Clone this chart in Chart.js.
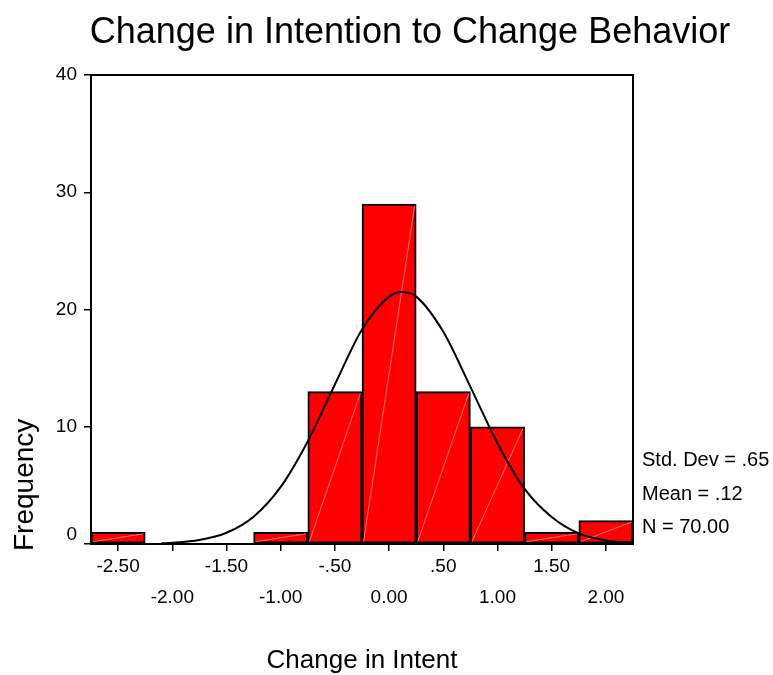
<!DOCTYPE html>
<html>
<head>
<meta charset="utf-8">
<title>Change in Intention to Change Behavior</title>
<script src="https://cdn.jsdelivr.net/npm/chart.js@4.4.1/dist/chart.umd.min.js"></script>
<style>
  body { margin: 0; background: #fff; }
  canvas { display: block; }
</style>
</head>
<body>
<canvas id="histChart" width="773" height="675"></canvas>
<script>
// Histogram bins (centres, width .50) and frequencies
const binCenters = [-2.5, -2.0, -1.5, -1.0, -0.5, 0, 0.5, 1.0, 1.5, 2.0];
const binLabels = ['-2.50', '-2.00', '-1.50', '-1.00', '-.50', '0.00', '.50', '1.00', '1.50', '2.00'];
const frequencies = [1, 0, 0, 1, 13, 29, 13, 10, 1, 2];

// Fitted normal curve, sampled along the axis
const curveX = [-2.1, -2.0, -1.75, -1.5, -1.25, -1.0, -0.75, -0.5, -0.25, 0, 0.12, 0.25, 0.5, 0.75, 1.0, 1.25, 1.5, 1.75, 2.0, 2.25];
const curveY = [0.06, 0.1, 0.34, 0.96, 2.33, 4.87, 8.77, 13.6, 18.3, 21.1, 21.5, 21.1, 18.1, 13.4, 8.6, 4.7, 2.3, 0.9, 0.3, 0.1];

const yTicks = [0, 10, 20, 30, 40];
const statLines = ['Std. Dev = .65', 'Mean = .12', 'N = 70.00'];

const FONT = '"Liberation Sans", Arial, Helvetica, sans-serif';

// Text and frame that sit outside the normal axis layout
const decorations = {
    id: 'decorations',
    afterDatasetDraw(chart, args) {
        // faint diagonal streak across every bar
        if (args.index !== 1) return;
        const ctx = chart.ctx;
        ctx.save();
        ctx.strokeStyle = 'rgba(255,255,255,0.45)';
        ctx.lineWidth = 1;
        args.meta.data.forEach(bar => {
            const p = bar.getProps(['x', 'y', 'base', 'width'], true);
            if (Math.abs(p.base - p.y) < 1) return;
            ctx.beginPath();
            ctx.moveTo(p.x - p.width / 2 + 1.5, p.base - 1.5);
            ctx.lineTo(p.x + p.width / 2 - 1.5, p.y + 1.5);
            ctx.stroke();
        });
        ctx.restore();
    },
    afterDraw(chart) {
        const ctx = chart.ctx;
        const area = chart.chartArea;
        const yScale = chart.scales.y;
        ctx.save();

        // frame
        ctx.strokeStyle = '#000';
        ctx.lineWidth = 2;
        ctx.strokeRect(area.left, area.top, area.right - area.left, area.bottom - area.top);

        ctx.fillStyle = '#000';

        // title
        ctx.font = '36px ' + FONT;
        ctx.textAlign = 'center';
        ctx.textBaseline = 'alphabetic';
        ctx.fillText('Change in Intention to Change Behavior', 410, 43);

        // y tick labels; the bottom one is lifted off the axis line
        ctx.font = '19px ' + FONT;
        ctx.textAlign = 'right';
        ctx.textBaseline = 'middle';
        yScale.ticks.forEach(t => {
            let py = yScale.getPixelForValue(t.value);
            if (t.value === yScale.min) py -= 9;
            ctx.fillText(String(t.value), area.left - 14, py);
        });

        // y axis title, reading upward from the bottom of the plot
        ctx.save();
        ctx.font = '28px ' + FONT;
        ctx.translate(33, area.bottom + 7);
        ctx.rotate(-Math.PI / 2);
        ctx.textAlign = 'left';
        ctx.textBaseline = 'alphabetic';
        ctx.fillText('Frequency', 0, 0);
        ctx.restore();

        // x axis title
        ctx.font = '26px ' + FONT;
        ctx.textAlign = 'center';
        ctx.textBaseline = 'alphabetic';
        ctx.fillText('Change in Intent', (area.left + area.right) / 2, 668);

        // summary statistics
        ctx.font = '20px ' + FONT;
        ctx.textAlign = 'left';
        statLines.forEach((s, i) => {
            ctx.fillText(s, area.right + 9, 466 + i * 33.5);
        });

        ctx.restore();
    }
};

const ctx = document.getElementById('histChart').getContext('2d');
const histChart = new Chart(ctx, {
    type: 'bar',
    data: {
        datasets: [
            {
                type: 'line',
                label: 'Normal curve',
                data: curveX.map((x, i) => ({ x: x, y: curveY[i] })),
                borderColor: '#000',
                borderWidth: 2,
                pointRadius: 0,
                fill: false,
                cubicInterpolationMode: 'monotone',
                order: 0
            },
            {
                label: 'Frequency',
                data: binCenters.map((x, i) => ({ x: x, y: frequencies[i] })),
                backgroundColor: '#ff0000',
                borderColor: '#000',
                borderWidth: 2,
                borderSkipped: false,
                barPercentage: 1,
                categoryPercentage: 1,
                order: 1
            }
        ]
    },
    options: {
        responsive: false,
        animation: false,
        layout: {
            padding: { left: 84, right: 140, top: 75, bottom: 62 }
        },
        plugins: {
            legend: { display: false },
            tooltip: { enabled: false },
            title: { display: false }
        },
        scales: {
            x: {
                type: 'linear',
                offset: false,
                min: -2.75,
                max: 2.25,
                afterBuildTicks: axis => {
                    axis.ticks = binCenters.map(v => ({ value: v }));
                },
                ticks: {
                    color: '#000',
                    font: { family: FONT, size: 19, lineHeight: 31 / 19 },
                    padding: 0,
                    maxRotation: 0,
                    autoSkip: false,
                    callback: (value, index) => index % 2 === 0 ? binLabels[index] : ['', binLabels[index]]
                },
                grid: {
                    offset: false,
                    drawOnChartArea: false,
                    drawTicks: true,
                    tickLength: 7,
                    color: '#000',
                    lineWidth: 1.5
                },
                border: { display: true, color: '#000', width: 2 }
            },
            y: {
                min: 0,
                max: 40,
                afterBuildTicks: axis => {
                    axis.ticks = yTicks.map(v => ({ value: v }));
                },
                ticks: { display: false },
                grid: {
                    drawOnChartArea: false,
                    drawTicks: true,
                    tickLength: 7,
                    color: '#000',
                    lineWidth: 1.5
                },
                border: { display: true, color: '#000', width: 2 }
            }
        }
    },
    plugins: [decorations]
});
</script>
</body>
</html>
